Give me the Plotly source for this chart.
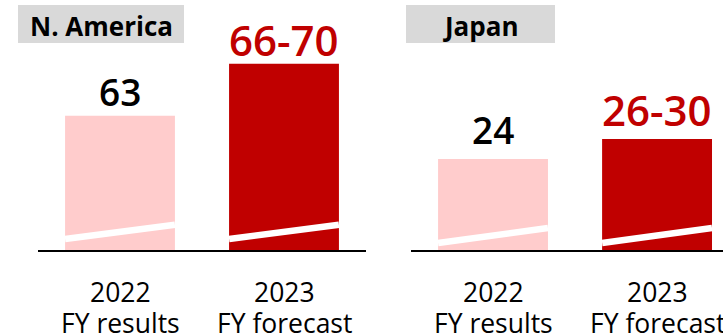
import plotly.graph_objects as go

# Operating profit by region: FY2022 results vs FY2023 forecast range
regions = ["N. America", "Japan"]
years = ["2022", "2023"]
periods = ["FY results", "FY forecast"]
fy2022_results = [63, 24]
fy2023_forecast_low = [66, 26]
fy2023_forecast_high = [70, 30]

W, H = 723, 333
FONT = "Open Sans"
RESULT_COLOR = "#FFCCCC"
FORECAST_COLOR = "#C00000"
TITLE_BG = "#D9D9D9"
BASE_Y = 250          # pixel row of the baseline
BAR_W = 0.67          # bar width in category units

# Per-panel layout: pixel extent of the x axis, visible category range,
# y range of the broken axis (it does not start at zero), label offset,
# position of the break stripe (fraction of axis height) and title box.
panels = [
    dict(px=(38, 366), xrange=[-0.5, 1.5], yrange=[50.1, 74.14],
         label_shift=24, brk=(0.044, 0.101), title_px=(18, 184)),
    dict(px=(411, 723), xrange=[-0.5, 1.402], yrange=[5.8, 55.8],
         label_shift=30, brk=(0.028, 0.088), title_px=(406, 555)),
]

fig = go.Figure()
annotations = []
shapes = []
y_domain = [(H - BASE_Y) / H, 1.0]

for i, (region, p) in enumerate(zip(regions, panels)):
    suffix = "" if i == 0 else str(i + 1)
    xa, ya = "x" + suffix, "y" + suffix
    forecast_mid = (fy2023_forecast_low[i] + fy2023_forecast_high[i]) / 2
    values = [fy2022_results[i], forecast_mid]
    xs = [0, 1]

    fig.add_trace(go.Bar(
        x=xs, y=values, width=BAR_W,
        marker=dict(color=[RESULT_COLOR, FORECAST_COLOR], line=dict(width=0)),
        xaxis=xa, yaxis=ya, hoverinfo="skip",
    ))

    # value labels above bars
    labels = [str(fy2022_results[i]),
              f"{fy2023_forecast_low[i]}-{fy2023_forecast_high[i]}"]
    colors = ["#000000", FORECAST_COLOR]
    sizes = [37, 42]
    for j in xs:
        annotations.append(dict(
            x=j, y=values[j], xref=xa, yref=ya, text=labels[j],
            showarrow=False, xanchor="center", yanchor="middle",
            yshift=p["label_shift"],
            font=dict(family=FONT, size=sizes[j], color=colors[j], weight=600),
        ))
        # axis-break stripe across the bar
        shapes.append(dict(
            type="line", xref=xa, yref=ya + " domain",
            x0=j - BAR_W / 2, x1=j + BAR_W / 2,
            y0=p["brk"][0], y1=p["brk"][1],
            line=dict(color="white", width=6.5), layer="above",
        ))
        # category labels (two lines)
        annotations.append(dict(
            x=j, y=(H - 291.5) / H, xref=xa, yref="paper", text=years[j],
            showarrow=False, xanchor="center", yanchor="middle",
            font=dict(family=FONT, size=26.5, color="#000000"),
        ))
        annotations.append(dict(
            x=j, y=(H - 322.6) / H, xref=xa, yref="paper", text=periods[j],
            showarrow=False, xanchor="center", yanchor="middle",
            font=dict(family=FONT, size=26.5, color="#000000"),
        ))

    # panel title on a grey box
    tx0, tx1 = p["title_px"]
    shapes.append(dict(
        type="rect", xref="paper", yref="paper",
        x0=tx0 / W, x1=tx1 / W, y0=(H - 43) / H, y1=(H - 5) / H,
        fillcolor=TITLE_BG, line=dict(width=0), layer="below",
    ))
    annotations.append(dict(
        x=(tx0 + tx1) / 2 / W, y=(H - 25.7) / H, xref="paper", yref="paper",
        text=region, showarrow=False, xanchor="center", yanchor="middle",
        font=dict(family=FONT, size=26, color="#000000", weight="bold"),
    ))

    fig.update_layout({
        "xaxis" + suffix: dict(
            domain=[p["px"][0] / W, p["px"][1] / W], range=p["xrange"],
            showline=True, linecolor="#000000", linewidth=2,
            showgrid=False, zeroline=False, showticklabels=False,
            ticks="", anchor=ya, fixedrange=True,
        ),
        "yaxis" + suffix: dict(
            domain=y_domain, range=p["yrange"], visible=False,
            anchor=xa, fixedrange=True,
        ),
    })

fig.update_layout(
    width=W, height=H,
    margin=dict(l=0, r=0, t=0, b=0),
    paper_bgcolor="white", plot_bgcolor="white",
    showlegend=False,
    annotations=annotations,
    shapes=shapes,
    font=dict(family=FONT),
)

fig.write_html("out.html", config={"displayModeBar": False})
